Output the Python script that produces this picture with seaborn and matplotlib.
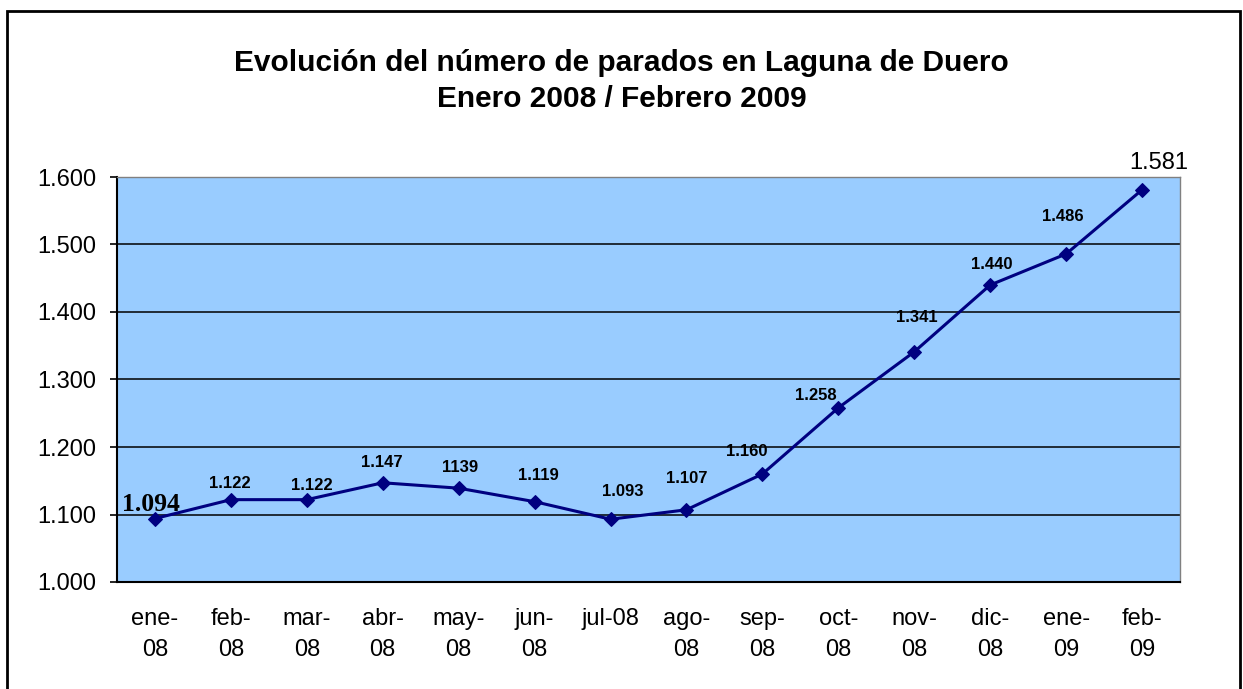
import pandas as pd
import numpy as np
import matplotlib
matplotlib.use('Agg')
import matplotlib.pyplot as plt
import seaborn as sns
from matplotlib.patches import Rectangle
from matplotlib.ticker import FuncFormatter, FixedLocator

# Datos
meses = ['ene-\n08', 'feb-\n08', 'mar-\n08', 'abr-\n08', 'may-\n08', 'jun-\n08',
         'jul-08', 'ago-\n08', 'sep-\n08', 'oct-\n08', 'nov-\n08', 'dic-\n08',
         'ene-\n09', 'feb-\n09']
parados = [1094, 1122, 1122, 1147, 1139, 1119, 1093, 1107, 1160, 1258, 1341, 1440, 1486, 1581]
etiquetas = ['1.094', '1.122', '1.122', '1.147', '1139', '1.119', '1.093', '1.107',
             '1.160', '1.258', '1.341', '1.440', '1.486', '1.581']

# Desplazamiento de cada etiqueta respecto a su punto (pixeles)
desplazamientos = [(-4, 14), (-1, 16), (5, 14), (-1, 20), (1, 21), (4, 26), (12, 28),
                   (0, 31), (-16, 22), (-23, 12), (3, 34), (2, 20), (-3, 37), (17, 27)]

df = pd.DataFrame({'pos': range(len(meses)), 'parados': parados})

sns.set_style('white')
plt.rcParams['font.family'] = ['Liberation Sans', 'DejaVu Sans']
plt.rcParams['text.color'] = 'black'
plt.rcParams['xtick.color'] = 'black'
plt.rcParams['ytick.color'] = 'black'

fig = plt.figure(figsize=(12.43, 6.89), dpi=100)
ax = fig.add_axes([117 / 1243, 107 / 689, 1063 / 1243, 405 / 689])
ax.set_facecolor('#99CCFF')

sns.lineplot(data=df, x='pos', y='parados', ax=ax, color='#000080',
             marker='D', markersize=7, markeredgecolor='#000080', linewidth=2.2)

ax.set_xlim(-0.5, len(meses) - 0.5)
ax.set_ylim(1000, 1600)
ax.yaxis.set_major_locator(FixedLocator(range(1000, 1601, 100)))
ax.yaxis.set_major_formatter(FuncFormatter(lambda v, p: f'{int(v):,}'.replace(',', '.')))
ax.grid(axis='y', color='black', linewidth=1.1)
ax.set_axisbelow(True)

ax.set_xticks(range(len(meses)))
ax.set_xticklabels(meses, fontsize=17)
for lbl in ax.get_xticklabels():
    lbl.set_linespacing(1.5)
ax.set_xticks(np.arange(-0.5, len(meses), 1), minor=True)
ax.tick_params(axis='x', which='major', length=0, pad=19)
ax.tick_params(axis='x', which='minor', length=6, width=1.2, direction='out', color='black')
ax.tick_params(axis='y', labelsize=17, length=5, width=1.2, direction='out',
               color='black', left=True, pad=10)
ax.set_xlabel('')
ax.set_ylabel('')

for s in ['left', 'bottom']:
    ax.spines[s].set_color('black')
    ax.spines[s].set_linewidth(1.5)
for s in ['top', 'right']:
    ax.spines[s].set_color('#808080')
    ax.spines[s].set_linewidth(1)

# Etiquetas de datos
for i, (v, t) in enumerate(zip(parados, etiquetas)):
    dx, dy = desplazamientos[i]
    if i == 0:
        ax.annotate(t, (i, v), xytext=(dx, dy), textcoords='offset pixels',
                    ha='center', va='center', fontsize=18.5, fontweight='bold',
                    family='Liberation Serif')
    elif i == len(parados) - 1:
        ax.annotate(t, (i, v), xytext=(dx, dy), textcoords='offset pixels',
                    ha='center', va='center', fontsize=17)
    else:
        ax.annotate(t, (i, v), xytext=(dx, dy), textcoords='offset pixels',
                    ha='center', va='center', fontsize=12, fontweight='bold')

fig.text(0.5, 1 - 63 / 689, 'Evolución del número de parados en Laguna de Duero',
         ha='center', va='center', fontsize=21.5, fontweight='bold')
fig.text(0.5, 1 - 99 / 689, 'Enero 2008 / Febrero 2009',
         ha='center', va='center', fontsize=21.5, fontweight='bold')

# Marco exterior
fig.patches.append(Rectangle((7 / 1243, -0.05), 1233 / 1243, 1 - 11 / 689 + 0.05,
                             transform=fig.transFigure, fill=False,
                             edgecolor='black', linewidth=2))

fig.savefig('out.png', dpi=100)
